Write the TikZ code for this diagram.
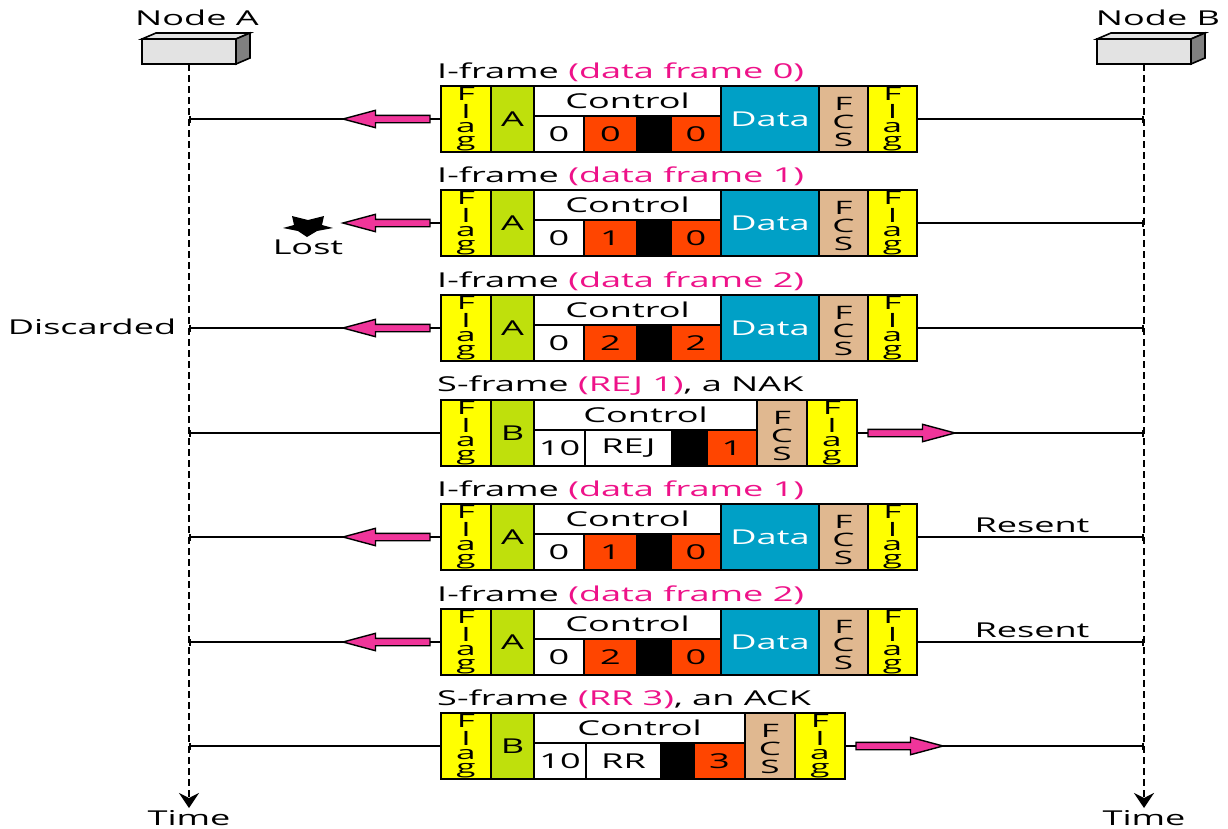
\documentclass[tikz,border=0pt]{standalone}
\usepackage{fontspec}
\setmainfont{Open Sans}
\usetikzlibrary{arrows.meta,shapes.arrows}
\definecolor{flagyellow}{HTML}{FFFF00}
\definecolor{addrgreen}{HTML}{BFE00C}
\definecolor{seqorange}{HTML}{FF4500}
\definecolor{datablue}{HTML}{00A0C6}
\definecolor{fcstan}{HTML}{E0B890}
\definecolor{labelpink}{HTML}{EE1289}
\definecolor{arrowpink}{HTML}{F0359A}
\definecolor{boxgrey}{HTML}{E3E3E3}
\definecolor{sidegrey}{HTML}{808080}
\newcommand{\tx}[1]{\scalebox{1.76}[1]{#1}}
\newcommand{\vst}[3]{\raisebox{#1}[0pt][0pt]{\scalebox{1.9}[1]{\fontsize{18.5}{#2}\selectfont\begin{tabular}{@{}c@{}}#3\end{tabular}}}}
\newcommand{\flagtxt}{\vst{-4.5pt}{13.7}{F\\l\\a\\g}}
\newcommand{\fcstxt}{\vst{-9.5pt}{15}{F\\C\\S}}
\newcommand{\cellbox}[7]{\node[fcell,fill=#6,minimum width={(#3-#2)*1pt},minimum height={(#5-#4)*1pt}] (#1) at ({(#2+#3)/2},{(#4+#5)/2}) {#7};}
% common: flag + address + control heading
\newcommand{\head}[4]{% id, top, address, control right edge
  \pgfmathsetmacro{\yb}{#2+66}\pgfmathsetmacro{\ym}{#2+30}
  \cellbox{flagl#1}{441}{491}{#2}{\yb}{flagyellow}{\flagtxt}
  \cellbox{addr#1}{491}{534}{#2}{\yb}{addrgreen}{\tx{#3}}
  \cellbox{ctrl#1}{534}{#4}{#2}{\ym}{white}{\tx{Control}}
}
\newcommand{\tail}[4]{% id, top, FCS left, field width
  \pgfmathsetmacro{\yb}{#2+66}\pgfmathsetmacro{\xa}{#3+#4}\pgfmathsetmacro{\xb}{#3+2*#4}
  \cellbox{fcs#1}{#3}{\xa}{#2}{\yb}{fcstan}{\fcstxt}
  \cellbox{flagr#1}{\xa}{\xb}{#2}{\yb}{flagyellow}{\flagtxt}
}
\newcommand{\iframe}[6]{% id, top, label, v1, v2, v3
  \head{#1}{#2}{A}{721}
  \pgfmathsetmacro{\yb}{#2+66}\pgfmathsetmacro{\ym}{#2+30}\pgfmathsetmacro{\yl}{#2-14}
  \cellbox{pf#1}{534}{584}{\ym}{\yb}{white}{\tx{#4}}
  \cellbox{sq#1}{584}{637}{\ym}{\yb}{seqorange}{\tx{#5}}
  \cellbox{pb#1}{637}{671}{\ym}{\yb}{black}{}
  \cellbox{ak#1}{671}{721}{\ym}{\yb}{seqorange}{\tx{#6}}
  \cellbox{data#1}{721}{819}{#2}{\yb}{datablue}{\textcolor{white}{\tx{Data}}}
  \tail{#1}{#2}{819}{49}
  \node[lbl] (lbl#1) at (437,\yl) {\tx{I-frame \textcolor{labelpink}{(data frame #3)}}};
  \pgfmathsetmacro{\yc}{#2+33}
  \coordinate (la#1) at (189,\yc);
  \coordinate (lb#1) at (1144,\yc);
  \node[fleft,anchor=tip] (arr#1) at (343,\yc) {};
  \draw[conn] (flagl#1.west) -- (arr#1.tail);
  \draw[conn,-{Bar[width=7pt]}] (flagr#1.east) -- (lb#1);
}
\newcommand{\sframe}[9]{% id, top, label, ctrl right, 10 right, name right, black right, value, name
  \head{#1}{#2}{B}{#4}
  \pgfmathsetmacro{\yb}{#2+66}\pgfmathsetmacro{\ym}{#2+30}\pgfmathsetmacro{\yl}{#2-14}\pgfmathsetmacro{\yc}{#2+33}
  \cellbox{pf#1}{534}{#5}{\ym}{\yb}{white}{\tx{10}}
  \cellbox{kd#1}{#5}{#6}{\ym}{\yb}{white}{\tx{#9}}
  \cellbox{pb#1}{#6}{#7}{\ym}{\yb}{black}{}
  \cellbox{ak#1}{#7}{#4}{\ym}{\yb}{seqorange}{\tx{#8}}
  \tail{#1}{#2}{#4}{50}
  \node[lbl] (lbl#1) at (437,\yl) {\tx{#3}};
  \coordinate (la#1) at (189,\yc);
  \coordinate (lb#1) at (1144,\yc);
  \pgfmathsetmacro{\xs}{#4+100+11}
  \node[fright,anchor=tail] (arr#1) at (\xs,\yc) {};
  \draw[conn,-{Bar[width=7pt]}] (flagl#1.west) -- (la#1);
  \draw[conn] (flagr#1.east) -- (arr#1.tail);
  \draw[conn,-{Bar[width=7pt]}] (arr#1.tip) -- (lb#1);
}
\newcommand{\nodebox}[2]{% id, left
  \pgfmathsetmacro{\xr}{#2+94}\pgfmathsetmacro{\xt}{#2+14}\pgfmathsetmacro{\xq}{#2+108}
  \fill[boxgrey,draw=black,line width=1.6pt] (#2,39) -- (\xt,33) -- (\xq,33) -- (\xr,39) -- cycle;
  \fill[sidegrey,draw=black,line width=1.6pt] (\xr,39) -- (\xq,33) -- (\xq,58) -- (\xr,64) -- cycle;
  \pgfmathsetmacro{\xc}{#2+47}
  \node[draw=black,line width=1.8pt,fill=boxgrey,minimum width=94pt,minimum height=25pt,inner sep=0pt,outer sep=0pt] (#1) at (\xc,51.5) {};
}
\tikzset{
  x=1pt,y=-1pt,
  fcell/.style={draw=black,line width=2pt,inner sep=0pt,outer sep=0pt,font=\fontsize{20.5}{24}\selectfont,text=black},
  lbl/.style={anchor=west,inner sep=0pt,font=\fontsize{20.5}{24}\selectfont},
  captext/.style={inner sep=0pt,font=\fontsize{20.5}{24}\selectfont},
  conn/.style={draw=black,line width=1.6pt},
  lifeline/.style={draw=black,line width=2.4pt,dash pattern=on 7pt off 4pt,-{Stealth[length=15pt,width=20pt,inset=5pt]}},
  fleft/.style={single arrow,draw=black,line width=1.4pt,fill=arrowpink,shape border rotate=180,minimum height=87pt,minimum width=16pt,inner sep=3pt,outer sep=0pt,single arrow head extend=5pt,single arrow tip angle=30},
  fright/.style={fleft,shape border rotate=0},
}
\begin{document}
\begin{tikzpicture}
\useasboundingbox (0,0) rectangle (1228,828);
\fill[white] (0,0) rectangle (1228,828);
% nodes
\nodebox{nodeA}{142}
\nodebox{nodeB}{1097}
\node[captext] (capA) at (197,18) {\tx{Node A}};
\node[captext] (capB) at (1158,18) {\tx{Node B}};
\coordinate (endA) at (189,808);
\coordinate (endB) at (1144,808);
\draw[lifeline] (nodeA.south) -- (endA);
\draw[lifeline] (nodeB.south) -- (endB);
\node[captext] (timeA) at (189,818) {\tx{Time}};
\node[captext] (timeB) at (1144,818) {\tx{Time}};
% frames
\iframe{1}{86}{0}{0}{0}{0}
\draw[conn,-{Bar[width=7pt]}] (arr1.tip) -- (la1);
\iframe{2}{190}{1}{0}{1}{0}
\iframe{3}{295}{2}{0}{2}{2}
\draw[conn,-{Bar[width=7pt]}] (arr3.tip) -- (la3);
\sframe{4}{400}{S-frame \textcolor{labelpink}{(REJ 1)}, a NAK}{757}{585}{672}{707}{1}{REJ}
\iframe{5}{504}{1}{0}{1}{0}
\draw[conn,-{Bar[width=7pt]}] (arr5.tip) -- (la5);
\iframe{6}{609}{2}{0}{2}{0}
\draw[conn,-{Bar[width=7pt]}] (arr6.tip) -- (la6);
\sframe{7}{713}{S-frame \textcolor{labelpink}{(RR 3)}, an ACK}{745}{586}{661}{694}{3}{RR}
% annotations
\fill[black] (292,216) -- (308,220) -- (324,216) -- (322,225) -- (333,228) -- (317,231) -- (307,237) -- (298,231) -- (283,228) -- (294,225) -- cycle;
\node[captext] (lost) at (308,247) {\tx{Lost}};
\node[captext] (disc) at (92,327) {\tx{Discarded}};
\node[captext] (res5) at (1032,525) {\tx{Resent}};
\node[captext] (res6) at (1032,630) {\tx{Resent}};
\end{tikzpicture}
\end{document}
